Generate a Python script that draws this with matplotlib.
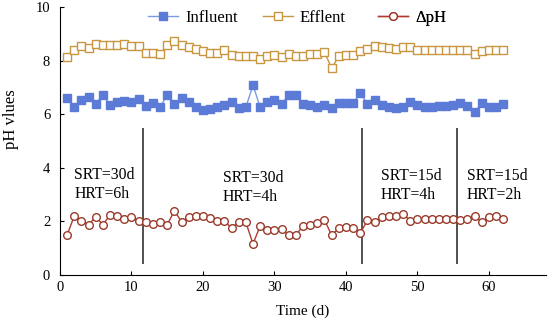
import matplotlib
matplotlib.use("Agg")
import matplotlib.pyplot as plt
import numpy as np

plt.rcParams['font.family'] = ['Liberation Serif', 'DejaVu Serif']
plt.rcParams['mathtext.fontset'] = 'stix'

days = list(range(1, 63))

influent = [6.59, 6.26, 6.53, 6.65, 6.38, 6.72, 6.34, 6.47, 6.50, 6.47,
            6.56, 6.31, 6.41, 6.26, 6.72, 6.38, 6.59, 6.47, 6.26, 6.17,
            6.20, 6.26, 6.34, 6.47, 6.22, 6.26, 7.09, 6.26, 6.47, 6.53,
            6.38, 6.72, 6.72, 6.38, 6.34, 6.26, 6.34, 6.22, 6.43, 6.43,
            6.43, 6.78, 6.40, 6.53, 6.34, 6.26, 6.22, 6.26, 6.47, 6.34,
            6.26, 6.26, 6.31, 6.31, 6.34, 6.41, 6.31, 6.09, 6.41, 6.26,
            6.26, 6.38]

effluent = [8.15, 8.40, 8.54, 8.46, 8.62, 8.58, 8.58, 8.58, 8.62, 8.54,
            8.54, 8.30, 8.30, 8.25, 8.58, 8.74, 8.58, 8.52, 8.42, 8.35,
            8.30, 8.27, 8.40, 8.21, 8.17, 8.17, 8.17, 8.08, 8.17, 8.21,
            8.15, 8.25, 8.17, 8.17, 8.25, 8.25, 8.33, 7.71, 8.17, 8.21,
            8.21, 8.35, 8.44, 8.54, 8.50, 8.46, 8.42, 8.52, 8.52, 8.40,
            8.40, 8.40, 8.40, 8.40, 8.40, 8.40, 8.40, 8.25, 8.37, 8.40,
            8.40, 8.40]

delta_ph = [1.49, 2.20, 2.03, 1.87, 2.18, 1.87, 2.24, 2.20, 2.08, 2.18,
            2.03, 1.99, 1.90, 1.99, 1.87, 2.40, 1.99, 2.15, 2.20, 2.20,
            2.12, 2.02, 2.03, 1.74, 1.99, 1.97, 1.16, 1.83, 1.68, 1.68,
            1.70, 1.49, 1.49, 1.83, 1.87, 1.95, 2.05, 1.49, 1.74, 1.78,
            1.74, 1.56, 2.04, 1.97, 2.15, 2.20, 2.20, 2.28, 2.03, 2.08,
            2.08, 2.08, 2.08, 2.08, 2.08, 2.05, 2.08, 2.20, 1.97, 2.18,
            2.20, 2.08]

phase_bounds = [11.6, 42.2, 55.5]
phase_srt = ['SRT=30d', 'SRT=30d', 'SRT=15d', 'SRT=15d']
phase_hrt = ['HRT=6h', 'HRT=4h', 'HRT=4h', 'HRT=2h']
label_x = [2.0, 22.8, 44.9, 56.9]
label_y = [3.73, 3.62, 3.69, 3.69]

fig = plt.figure(figsize=(5.5, 3.22), dpi=100)
ax = fig.add_axes([0.109, 0.146, 0.884, 0.832])

l1, = ax.plot(days, influent, color='#7b9be0', lw=1.0, marker='s', ms=5.8,
              mfc='#5b7bd6', mec='#5b7bd6', label='Influent', zorder=3)
l2, = ax.plot(days, effluent, color='#c8963e', lw=1.0, marker='s', ms=5.5,
              mfc='white', mec='#c8963e', mew=1.0, label='Efflent', zorder=3)
l3, = ax.plot(days, delta_ph, color='#b03a2e', lw=1.0, marker='o', ms=5.5,
              mfc='white', mec='#9a3a2a', mew=1.0, label='ΔpH', zorder=3)

ax.vlines(phase_bounds, 0.4, 5.5, color='#333333', lw=1.2)

for x, y, s, h in zip(label_x, label_y, phase_srt, phase_hrt):
    ax.text(x, y, s, fontsize=11.3, ha='left', va='center')
    ax.text(x, y - 0.71, h, fontsize=11.3, ha='left', va='center')

ax.set_xlim(0, 68)
ax.set_ylim(0, 10)
ax.set_xticks([0, 10, 20, 30, 40, 50, 60])
ax.set_yticks([0, 2, 4, 6, 8, 10])
ax.tick_params(axis='both', direction='in', labelsize=10.5, length=3)
ax.tick_params(axis='x', pad=4)
ax.tick_params(axis='y', pad=7)
ax.spines['top'].set_visible(False)
ax.spines['right'].set_visible(False)
ax.set_xlabel('Time (d)', fontsize=11, labelpad=8)
ax.set_ylabel('pH vlues', fontsize=12)
ax.yaxis.set_label_coords(-0.085, 0.58)

for handle, xa in zip([l1, l2, l3], [0.182, 0.418, 0.655]):
    lg = ax.legend(handles=[handle], loc='upper left', bbox_to_anchor=(xa, 0.988),
                   frameon=False, fontsize=12, handlelength=1.8,
                   handletextpad=0.4, borderaxespad=0, borderpad=0)
    ax.add_artist(lg)

fig.savefig('out.png', dpi=100)
